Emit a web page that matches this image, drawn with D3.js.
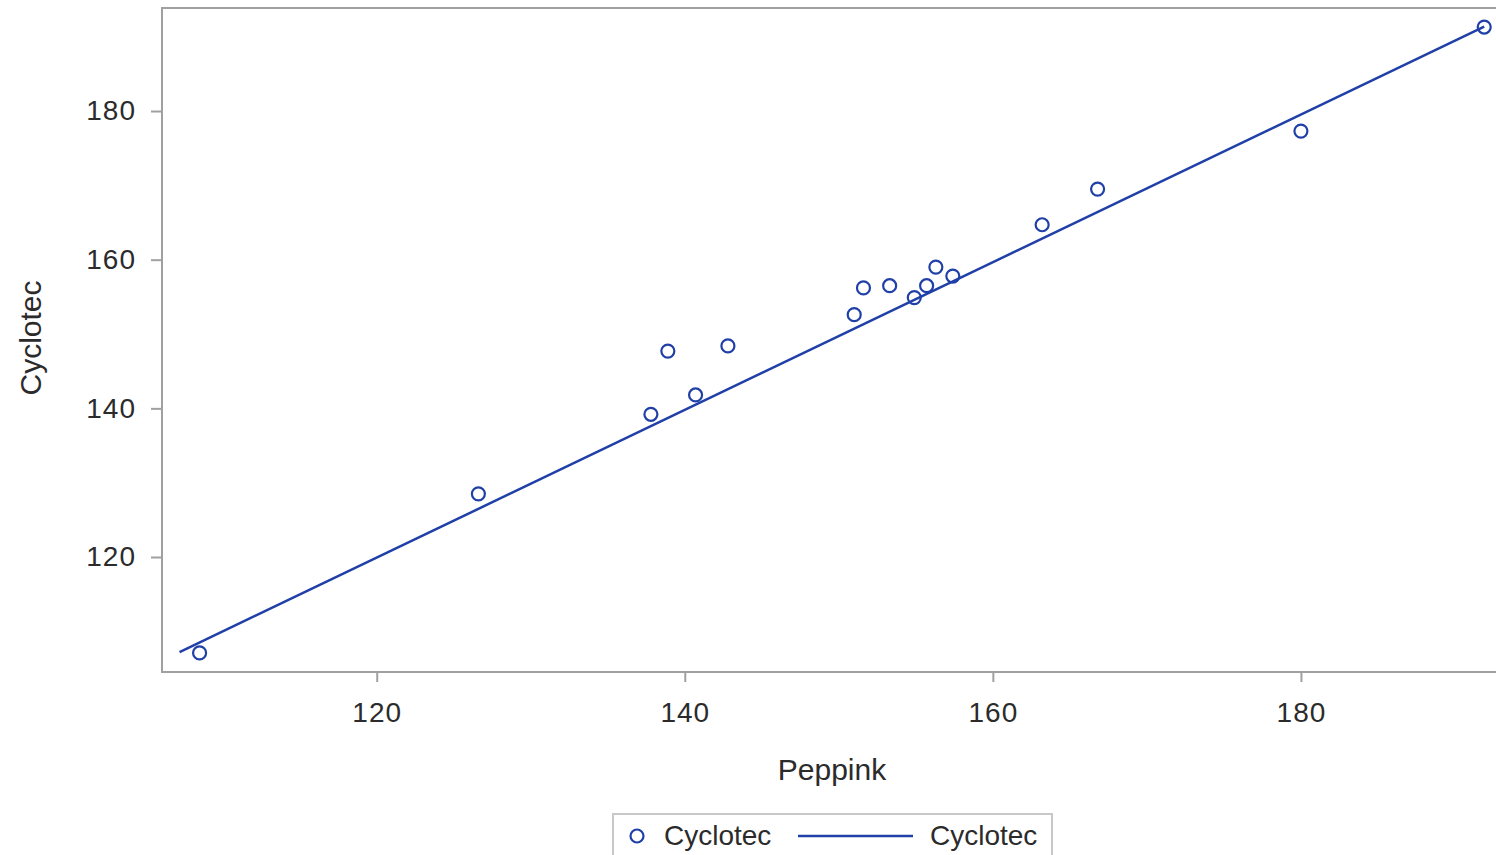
<!DOCTYPE html>
<html>
<head>
<meta charset="utf-8">
<script src="https://cdn.jsdelivr.net/npm/d3@7"></script>
<style>
  html, body { margin: 0; padding: 0; background: #fff; }
  svg { display: block; }
  text { font-family: "Liberation Sans", Arial, sans-serif; fill: #2b2b2b; }
</style>
</head>
<body>
<svg id="chart" width="1496" height="855"></svg>
<script>
// Data
const peppink  = [108.5, 126.6, 137.8, 138.9, 140.7, 142.8, 151.0, 151.6, 153.3, 154.9, 155.7, 156.3, 157.4, 163.2, 166.8, 180.0, 191.9];
const cyclotec = [107.1, 128.5, 139.2, 147.7, 141.8, 148.4, 152.6, 156.2, 156.5, 154.9, 156.5, 159.0, 157.8, 164.7, 169.5, 177.3, 191.3];
const fitIntercept = 0.70;
const fitSlope = 0.9935;
const fitRange = [107.2, 191.9];
const xTicks = [120, 140, 160, 180];
const yTicks = [120, 140, 160, 180];
const xDomain = [106.06, 192.6];
const yDomain = [104.53, 193.86];
const seriesName = "Cyclotec";
const xTitle = "Peppink";
const yTitle = "Cyclotec";

(function () {
const color = "#2040a8";
const svg = d3.select("#chart");
const mLeft = 162, mRight = 1495, mTop = 8, mBottom = 672;

const x = d3.scaleLinear().domain(xDomain).range([mLeft, mRight]);
const y = d3.scaleLinear().domain(yDomain).range([mBottom, mTop]);

// Frame
svg.append("rect")
  .attr("x", mLeft).attr("y", mTop)
  .attr("width", mRight - mLeft + 2).attr("height", mBottom - mTop)
  .attr("fill", "none").attr("stroke", "#a0a0a0").attr("stroke-width", 2);

// Axes
const xAxis = svg.append("g").attr("transform", `translate(0,${mBottom})`)
  .call(d3.axisBottom(x).tickValues(xTicks).tickSize(10).tickPadding(20).tickFormat(d3.format("d")));
const yAxis = svg.append("g").attr("transform", `translate(${mLeft},0)`)
  .call(d3.axisLeft(y).tickValues(yTicks).tickSize(11).tickPadding(15).tickFormat(d3.format("d")));
[xAxis, yAxis].forEach(g => {
  g.select(".domain").remove();
  g.selectAll(".tick line").attr("stroke", "#a0a0a0").attr("stroke-width", 2);
  g.selectAll(".tick text").attr("font-size", 28).attr("fill", "#2b2b2b")
    .attr("font-family", '"Liberation Sans", Arial, sans-serif').style("letter-spacing", "1px");
});

// Titles
svg.append("text").attr("x", 832).attr("y", 780).attr("text-anchor", "middle")
  .attr("font-size", 30).text(xTitle);
svg.append("text").attr("transform", `translate(41,${338}) rotate(-90)`).attr("text-anchor", "middle")
  .attr("font-size", 30).text(yTitle);

// Fit line
svg.append("line")
  .attr("x1", x(fitRange[0])).attr("y1", y(fitIntercept + fitSlope * fitRange[0]))
  .attr("x2", x(fitRange[1])).attr("y2", y(fitIntercept + fitSlope * fitRange[1]))
  .attr("stroke", color).attr("stroke-width", 2.5);

// Points
svg.append("g").selectAll("circle").data(peppink.map((v, i) => [v, cyclotec[i]]))
  .join("circle")
  .attr("cx", d => x(d[0])).attr("cy", d => y(d[1])).attr("r", 6.5)
  .attr("fill", "none").attr("stroke", color).attr("stroke-width", 2.2);

// Legend
const lg = svg.append("g");
lg.append("rect").attr("x", 613).attr("y", 814).attr("width", 439).attr("height", 50)
  .attr("fill", "#fff").attr("stroke", "#c8c8c8").attr("stroke-width", 2);
lg.append("circle").attr("cx", 637).attr("cy", 836).attr("r", 6.5)
  .attr("fill", "none").attr("stroke", color).attr("stroke-width", 2.2);
lg.append("text").attr("x", 664).attr("y", 845).attr("font-size", 28).text(seriesName);
lg.append("line").attr("x1", 798).attr("x2", 913).attr("y1", 836).attr("y2", 836)
  .attr("stroke", color).attr("stroke-width", 2.5);
lg.append("text").attr("x", 930).attr("y", 845).attr("font-size", 28).text(seriesName);
})();
</script>
</body>
</html>
